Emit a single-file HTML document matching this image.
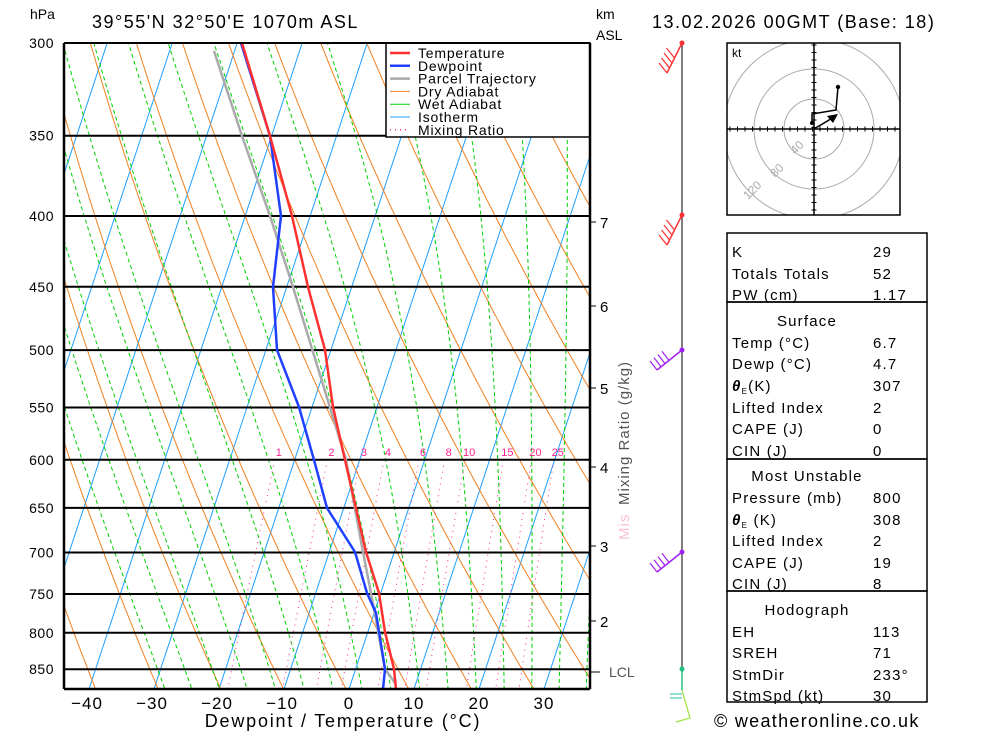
<!DOCTYPE html>
<html><head><meta charset="utf-8"><style>
body{margin:0;background:#fff;width:1000px;height:733px;overflow:hidden;font-family:"Liberation Sans",sans-serif}
svg text{font-family:"Liberation Sans",sans-serif}
</style></head><body>
<svg id="s" width="1000" height="733" xmlns="http://www.w3.org/2000/svg">
<defs><clipPath id="pc"><rect x="64" y="43" width="526" height="646"/></clipPath>
<clipPath id="hc"><rect x="727" y="43" width="173" height="172"/></clipPath></defs>
<g id="grid" clip-path="url(#pc)"></g>
<g id="fg"></g>
</svg>
<script>
const NS="http://www.w3.org/2000/svg";
const grid=document.getElementById('grid'),fg=document.getElementById('fg');
function Y(p){return 43+601.3*Math.log(p/300);}
function X(T,p){return 349+6.5*T+0.33*(689-Y(p));}
function el(par,tag,a,txt){const e=document.createElementNS(NS,tag);for(const k in a)e.setAttribute(k,a[k]);if(txt!==undefined)e.textContent=txt;par.appendChild(e);return e;}
function poly(par,pts,st){el(par,'polyline',Object.assign({points:pts.map(q=>q[0].toFixed(1)+','+q[1].toFixed(1)).join(' '),fill:'none'},st));}
const PS=[];for(let p=250;p<=900;p+=5)PS.push(p);
for(let T=-120;T<=50;T+=10){poly(grid,[[X(T,900),Y(900)],[X(T,250),Y(250)]],{stroke:'#1ea0ff','stroke-width':1});}
for(let th=223;th<=493;th+=10){poly(grid,PS.map(p=>[X(th*Math.pow(p/1000,0.286)-273.15,p),Y(p)]),{stroke:'#f08020','stroke-width':1});}
function es(T){return 6.112*Math.exp(17.67*T/(T+243.5));}
function dTdp(T,p){const Tk=T+273.15,e=es(T),rs=0.622*e/(p-e),Lv=2.5e6,Rd=287,cp=1004;
return (Rd*Tk+Lv*rs)/(p*(cp+Lv*Lv*rs*0.622/(Rd*Tk*Tk)));}
for(let T0=-20;T0<=40;T0+=4){let T=T0,pts=[];
 for(let p=1000;p>=250;p-=5){pts.push([X(T,p),Y(p)]);T-=dTdp(T,p)*5;}
 poly(grid,pts,{stroke:'#00d000','stroke-width':1,'stroke-dasharray':'4,3'});}
const W=[1,2,3,4,6,8,10,15,20,25];
W.forEach(w=>{const pts=[];for(let p=600;p<=900;p+=10){const e=w*p/(622+w),l=Math.log(e/6.112);const Td=243.5*l/(17.67-l);pts.push([X(Td,p),Y(p)]);}
 poly(grid,pts,{stroke:'#ff2090','stroke-width':1,'stroke-dasharray':'1,5'});
 const p=600,e=w*p/(622+w),l=Math.log(e/6.112),Td=243.5*l/(17.67-l);
 el(grid,'text',{x:X(Td,p)+4,y:456,'font-size':11,fill:'#ff2090','text-anchor':'middle'},String(w));});
for(let p=300;p<=850;p+=50){el(grid,'line',{x1:64,x2:590,y1:Y(p),y2:Y(p),stroke:'#000','stroke-width':2});
 el(fg,'text',{x:54,y:Y(p)+5,'font-size':14,'text-anchor':'end','letter-spacing':'0.5'},String(p));}
const red=[[396,689],[394,669],[385,632],[379,593],[366,552],[356,508],[345,460],[333,407],[325,350],[308,287],[292,216],[270,136],[242,43]];
const blue=[[383,689],[385,669],[376,613],[367,593],[355,552],[327,508],[314,460],[299,407],[277,350],[273,287],[281,216],[270,136],[241,43]];
const gray=[[395,683],[385,669],[371,593],[363,552],[346,460],[321,378],[293,287],[270,216],[242,136],[214,51]];
poly(grid,gray,{stroke:'#aaa','stroke-width':2.5});
poly(grid,blue,{stroke:'#2040ff','stroke-width':2.5});
poly(grid,red,{stroke:'#ff3030','stroke-width':2.5});
const L=el(fg,'g',{});
el(L,'rect',{x:386,y:43,width:204,height:94,fill:'#fff',stroke:'#000','stroke-width':1.5});
const leg=[['Temperature','#ff3030',2.5,''],['Dewpoint','#2040ff',2.5,''],['Parcel Trajectory','#aaa',2.5,''],['Dry Adiabat','#f08020',1,''],['Wet Adiabat','#00d000',1,''],['Isotherm','#1ea0ff',1,''],['Mixing Ratio','#ff2090',1.5,'1,4']];
leg.forEach((l,i)=>{const y=53+i*12.8;el(L,'line',{x1:390,x2:410,y1:y,y2:y,stroke:l[1],'stroke-width':l[2],'stroke-dasharray':l[3]||'none'});
 el(L,'text',{x:418,y:y+5,'font-size':14,'letter-spacing':'0.8'},l[0]);});
el(fg,'line',{x1:64,x2:64,y1:43,y2:689,stroke:'#000','stroke-width':2.5});
el(fg,'line',{x1:590,x2:590,y1:43,y2:689,stroke:'#000','stroke-width':2.5});
el(fg,'line',{x1:64,x2:590,y1:689,y2:689,stroke:'#000','stroke-width':2.5});
el(fg,'line',{x1:64,x2:590,y1:43,y2:43,stroke:'#000','stroke-width':2});
[-40,-30,-20,-10,0,10,20,30].forEach(t=>el(fg,'text',{x:349+6.5*t-(t<0?2:0),y:709,'font-size':17,'text-anchor':'middle','letter-spacing':'1'},t<0?'−'+(-t):String(t)));
el(fg,'text',{x:343,y:727,'font-size':18,'text-anchor':'middle','letter-spacing':'1.8'},'Dewpoint / Temperature (°C)');
el(fg,'text',{x:30,y:19,'font-size':14},'hPa');
el(fg,'text',{x:92,y:28,'font-size':18,'letter-spacing':'1.5'},"39°55'N 32°50'E 1070m ASL");
el(fg,'text',{x:652,y:28,'font-size':18,'letter-spacing':'1.5'},'13.02.2026 00GMT (Base: 18)');
el(fg,'text',{x:596,y:19,'font-size':14},'km');
el(fg,'text',{x:596,y:40,'font-size':14},'ASL');
[[7,222],[6,306],[5,388],[4,467],[3,546],[2,621]].forEach(k=>{el(fg,'line',{x1:590,x2:596,y1:k[1],y2:k[1],stroke:'#000'});el(fg,'text',{x:600,y:k[1]+6,'font-size':15},String(k[0]));});
el(fg,'line',{x1:590,x2:600,y1:672,y2:672,stroke:'#000'});
el(fg,'text',{x:609,y:677,'font-size':14,fill:'#555'},'LCL');
el(fg,'text',{x:0,y:0,'font-size':15,fill:'#555','letter-spacing':'1',transform:'translate(629,505) rotate(-90)'},'Mixing Ratio (g/kg)');
el(fg,'text',{x:0,y:0,'font-size':15,fill:'#f9c0d8','letter-spacing':'1',transform:'translate(629,540) rotate(-90)'},'Mis');
el(fg,'line',{x1:682,x2:682,y1:43,y2:672,stroke:'#555','stroke-width':1.5});
el(fg,'line',{x1:682,x2:682,y1:669,y2:690,stroke:'#20c080','stroke-width':1.5});
function barb(y,c,n){el(fg,'circle',{cx:682,cy:y,r:2.5,fill:c});el(fg,'line',{x1:682,y1:y,x2:667,y2:y+30,stroke:c,'stroke-width':1.5});
 for(let i=0;i<n;i++){const bx=667+i*2.5,by=y+30-i*5;el(fg,'line',{x1:bx,y1:by,x2:bx-8,y2:by-10,stroke:c,'stroke-width':1.2});}}
barb(43,'#ff3030',4);barb(215,'#ff3030',4);
function barb2(y,c,n){el(fg,'circle',{cx:682,cy:y,r:2.5,fill:c});el(fg,'line',{x1:682,y1:y,x2:657,y2:y+20,stroke:c,'stroke-width':1.5});
 for(let i=0;i<n;i++){const bx=657+i*4,by=y+20-i*3.2;el(fg,'line',{x1:bx,y1:by,x2:bx-7,y2:by-9,stroke:c,'stroke-width':1.2});}}
barb2(350,'#a020f0',4);barb2(552,'#a020f0',4);
el(fg,'circle',{cx:682,cy:669,r:2.5,fill:'#20c080'});
el(fg,'line',{x1:670,x2:682,y1:694,y2:694,stroke:'#20c0a0'});el(fg,'line',{x1:670,x2:682,y1:698,y2:698,stroke:'#20c0a0'});
el(fg,'polyline',{points:'682,690 690,718 676,722',fill:'none',stroke:'#a0e040','stroke-width':1.2});
const H=el(fg,'g',{});
el(H,'rect',{x:727,y:43,width:173,height:172,fill:'#fff'});
const HC=el(H,'g',{'clip-path':'url(#hc)'});
const cx=814,cy=129;
[30,60,90].forEach(r=>el(HC,'circle',{cx,cy,r,fill:'none',stroke:'#aaa'}));
el(H,'rect',{x:727,y:43,width:173,height:172,fill:'none',stroke:'#000','stroke-width':1.5});
el(H,'line',{x1:727,x2:900,y1:cy,y2:cy,stroke:'#000','stroke-width':1.5});
el(H,'line',{x1:cx,x2:cx,y1:43,y2:215,stroke:'#000','stroke-width':1.5});
for(let d=-84;d<=84;d+=7.5){el(H,'line',{x1:cx+d,x2:cx+d,y1:cy-2.5,y2:cy+2.5,stroke:'#000'});el(H,'line',{y1:cy+d,y2:cy+d,x1:cx-2.5,x2:cx+2.5,stroke:'#000'});}
el(H,'text',{x:732,y:57,'font-size':12},'kt');
el(H,'text',{x:0,y:0,'font-size':12,fill:'#aaa',transform:'translate(795,155) rotate(-45)'},'40');
el(H,'text',{x:0,y:0,'font-size':12,fill:'#aaa',transform:'translate(775,178) rotate(-45)'},'80');
el(H,'text',{x:0,y:0,'font-size':12,fill:'#aaa',transform:'translate(748,200) rotate(-45)'},'120');
el(H,'polyline',{points:'812,123 812,114 836,110 838,87',fill:'none',stroke:'#000','stroke-width':1.5});
el(H,'circle',{cx:812,cy:123,r:2,fill:'#000'});el(H,'circle',{cx:838,cy:87,r:2.2,fill:'#000'});
el(H,'line',{x1:cx,y1:cy,x2:834,y2:117,stroke:'#000','stroke-width':1.5});
el(H,'polygon',{points:'838,114 827,116 833,123',fill:'#000'});
const T=el(fg,'g',{});
[[233,302],[302,459],[459,591],[591,702]].forEach(s=>el(T,'rect',{x:727,y:s[0],width:200,height:s[1]-s[0],fill:'none',stroke:'#000','stroke-width':1.5}));
const rows=[[252,'K','29'],[274,'Totals Totals','52'],[295,'PW (cm)','1.17'],[321,'Surface','',1],[343,'Temp (°C)','6.7'],[364,'Dewp (°C)','4.7'],[386,'θE(K)','307'],[408,'Lifted Index','2'],[429,'CAPE (J)','0'],[451,'CIN (J)','0'],
[476,'Most Unstable','',1],[498,'Pressure (mb)','800'],[520,'θE (K)','308'],[541,'Lifted Index','2'],[563,'CAPE (J)','19'],[584,'CIN (J)','8'],
[610,'Hodograph','',1],[632,'EH','113'],[653,'SREH','71'],[675,'StmDir','233°'],[696,'StmSpd (kt)','30']];
rows.forEach(r=>{const y=r[0]+5;
 if(r[3]){el(T,'text',{x:807,y,'font-size':15,'text-anchor':'middle','letter-spacing':'1.2'},r[1]);return;}
 if(r[1].startsWith('θ')){const t=el(T,'text',{x:732,y,'font-size':15,'letter-spacing':'1.2'});
  el(t,'tspan',{'font-weight':'bold','font-style':'italic'},'θ');el(t,'tspan',{'font-size':8,dy:3},'E');el(t,'tspan',{dy:-3},r[1].slice(2));}
 else el(T,'text',{x:732,y,'font-size':15,'letter-spacing':'1.2'},r[1]);
 el(T,'text',{x:873,y,'font-size':15,'letter-spacing':'1.2'},r[2]);});
el(fg,'text',{x:714,y:727,'font-size':18,'letter-spacing':'1.3'},'© weatheronline.co.uk');
</script>
</body></html>
